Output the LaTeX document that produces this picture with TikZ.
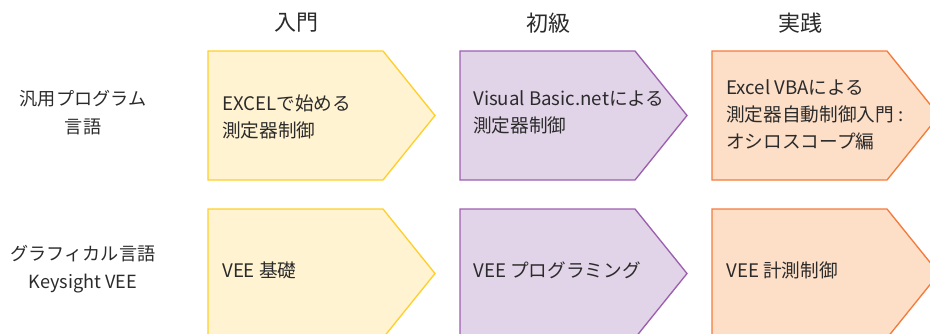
\documentclass[tikz,border=0pt]{standalone}
\usepackage{fontspec}
\setmainfont{Noto Sans CJK JP}
\definecolor{txt}{HTML}{2B2B2B}
\definecolor{yfill}{HTML}{FFF3D2}
\definecolor{ydraw}{HTML}{FFCF2A}
\definecolor{pfill}{HTML}{E2D4E8}
\definecolor{pdraw}{HTML}{9C5FB0}
\definecolor{ofill}{HTML}{FDDFC8}
\definecolor{odraw}{HTML}{F47B3A}
\begin{document}
\begin{tikzpicture}[x=0.75pt,y=-0.75pt,
  hdr/.style={font=\fontsize{16.5}{20}\selectfont, text=txt, inner sep=0pt},
  rowlbl/.style={font=\fontsize{13.6}{21.5}\selectfont, text=txt, align=center, inner sep=0pt},
  boxtxt/.style={font=\fontsize{14}{20.3}\selectfont, text=txt, align=left, anchor=west, inner sep=0pt},
  ybox/.style={fill=yfill, draw=ydraw, line width=1pt},
  pbox/.style={fill=pfill, draw=pdraw, line width=1pt},
  obox/.style={fill=ofill, draw=odraw, line width=1pt}]
\useasboundingbox (0,0) rectangle (930,333);
\clip (0,0) rectangle (930,333);
% arrows (chevrons)
\def\chev#1#2#3{\path[#3] (#1,#2) -- ++(175,0) -- ++(52,64.5) -- ++(-52,64.5) -- ++(-175,0) -- cycle;}
\chev{208}{51}{ybox}
\chev{460}{51}{pbox}
\chev{712}{51}{obox}
\chev{208}{209}{ybox}
\chev{460}{209}{pbox}
\chev{712}{209}{obox}
% headers
\node[hdr] (h1) at (296,23) {入門};
\node[hdr] (h2) at (548,23) {初級};
\node[hdr] (h3) at (800,23) {実践};
% row labels
\node[rowlbl] (r1) at (83,112.5) {汎用プログラム\\言語};
\node[rowlbl] (r2) at (83,269) {グラフィカル言語\\Keysight VEE};
% box texts
\node[boxtxt] (t11) at (222,117) {EXCELで始める\\測定器制御};
\node[boxtxt] (t12) at (473,112.5) {Visual Basic.netによる\\測定器制御};
\node[boxtxt] (t13) at (726,115) {Excel VBAによる\\測定器自動制御入門 :\\オシロスコープ編};
\node[boxtxt] (t21) at (222,270) {VEE 基礎};
\node[boxtxt] (t22) at (473,270) {VEE プログラミング};
\node[boxtxt] (t23) at (726,270) {VEE 計測制御};
\end{tikzpicture}
\end{document}
